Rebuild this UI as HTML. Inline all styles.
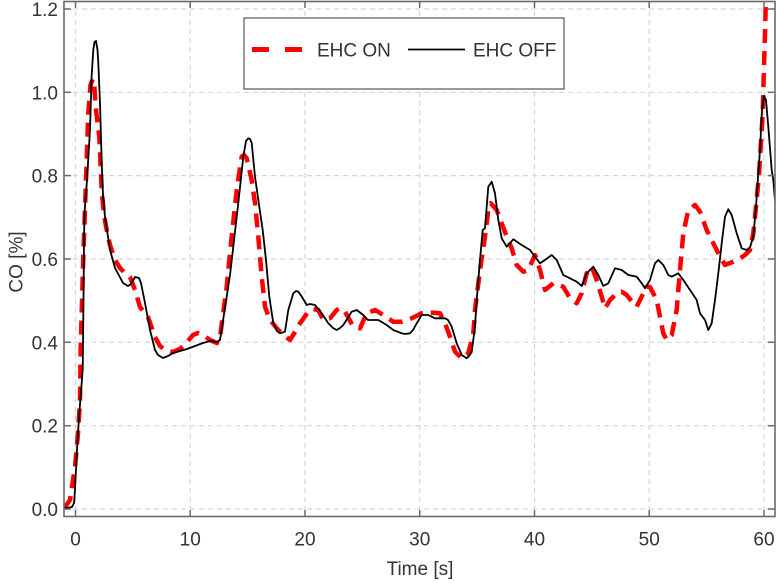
<!DOCTYPE html>
<html>
<head>
<meta charset="utf-8">
<style>
html,body{margin:0;padding:0;background:#fff;}
svg{display:block;}
text{font-family:"Liberation Sans",sans-serif;fill:#333;}
</style>
</head>
<body>
<svg width="778" height="583" viewBox="0 0 778 583" xmlns="http://www.w3.org/2000/svg">
<defs>
<clipPath id="pa"><rect x="64" y="1.5" width="711" height="515"/></clipPath>
</defs>
<rect x="0" y="0" width="778" height="583" fill="#fff"/>
<!-- grid -->
<g stroke="#d6d6d6" stroke-width="1.2" stroke-dasharray="5 4" fill="none">
<line x1="75.5" y1="2" x2="75.5" y2="516"/>
<line x1="190.2" y1="2" x2="190.2" y2="516"/>
<line x1="305" y1="2" x2="305" y2="516"/>
<line x1="419.7" y1="2" x2="419.7" y2="516"/>
<line x1="534.5" y1="2" x2="534.5" y2="516"/>
<line x1="649.2" y1="2" x2="649.2" y2="516"/>
<line x1="764" y1="2" x2="764" y2="516"/>
<line x1="64" y1="509" x2="775" y2="509"/>
<line x1="64" y1="425.7" x2="775" y2="425.7"/>
<line x1="64" y1="342.3" x2="775" y2="342.3"/>
<line x1="64" y1="259" x2="775" y2="259"/>
<line x1="64" y1="175.6" x2="775" y2="175.6"/>
<line x1="64" y1="92.3" x2="775" y2="92.3"/>
<line x1="64" y1="9" x2="775" y2="9"/>
</g>
<g clip-path="url(#pa)" fill="none" stroke-linejoin="round">
<polyline stroke="#f00" stroke-width="4.5" stroke-dasharray="14 8" points="64,508 65,507 70,500 75,467 78,433 80,400 80.7,347 83.3,257 86,180 88.3,113 90.5,85 92.7,79 94,82 96,110 99.3,137 101.7,190 104,215 106.7,230 110,245 115,260 120,268 125,273 130,277 135,290 140,307 148,317 155,337 160,346 165,350 173,352 180,349 187,342 193,335 198,333 203,335 210,340 217,343 220,337 226.7,286.7 231.7,236.7 236.7,190 241.7,156.7 244,155 246.7,158.3 251.7,180 255,203 258.3,236.7 261.7,276.7 265,306.7 270,320 278.3,330 285,336 290,340 295,332 300,323.3 308.3,311.7 313,309 318.3,310 323.3,320 330,318.3 336.7,310 340,308 345,311.7 353.3,326.7 360,328.3 366.7,313.3 375,310 383.3,315 393.3,321.7 401.7,321.7 411.7,318.3 421.7,313.3 433.3,312.7 440,313.3 445,323.3 450,336.7 455,351.7 461.7,358.3 468.3,353.3 473.3,333.3 475,310 480,270 485,236.7 488.3,210 490.7,203.3 496.7,210 501.7,223.3 506.7,236.7 511.7,248.3 516.7,265 523.3,271.7 528.3,270 535,255 540,270 545,290 553.3,283.3 563.3,286.7 570,298.3 576.7,303.3 581.7,293.3 586.7,273.3 591.7,266.7 596.7,280 601.7,296.7 605,308.3 610,300 616.7,293.3 621.7,291.7 626.7,295 633.3,303.3 636.7,306.7 640,300 643.3,293.3 646.7,286.7 650,287 656.7,300 660,316.7 663.3,333.3 666.7,340 671.7,335 676.7,310 680,270 683.3,233.3 688.3,210 695,205 700,211.7 706.7,230 711.7,240 718.3,253.3 725,265 733.3,261.7 740,258.3 745,255 750,250 753.3,233.3 756,206.7 759,175 762.7,113 764,66.7 765,33 766,-5"/>
<polyline stroke="#000" stroke-width="1.8" points="64,508 67,508 72,507 74,503 75,490 77,450 79,417 82.7,370 83.5,300 84,240 84.5,213 87,180 90,130 91.7,75 93.3,50 94.5,42 96,41 97.5,50 98.3,63 100,103 101.7,163 103,195 105,217 110,250 115,268 123,283 128,286 131,284 135,277 139,278 141,283 145,303 150,330 155,350 158,355 163,358 168,356 173,353 180,351 187,349 195,346 203,343 210,341 217,342 220,340 226.7,296.7 230,275 233.3,246.7 238.3,203 243.3,156.7 246,141 248.3,138.3 250,139 251.7,143 255,176.7 259.3,206.7 262.7,230 266,260 269.3,296.7 273.3,323.3 277,331 280,333.3 285,331.7 288.3,310 293.3,293.3 296,291 298.3,291.7 302,297 306.7,305 310,304 315,305 321.7,313.3 328.3,323.3 333,328 336.7,330 340,328 343.3,325 351.7,311.7 356.7,310 363.3,315 368,320 371.7,320 378.3,320 386.7,325 393.3,330 401.7,333.3 405,334 410,333.3 413,330 416.7,323.3 421.7,315 428.3,315 435,318.3 445,318.3 448,320 451.7,326.7 456.7,343.3 461.7,355 466.7,358.3 469,356 471.7,352 475,326.7 476.7,300 480,260 482.7,230 485,228.3 488.3,186.7 491.7,181.7 495,193.3 498.3,220 501.7,238.3 506.7,246.7 513.3,239.3 521.7,245 530,250 535,256.7 540,263.3 545,260 551.7,255 556.7,260 563.3,275 570,278.3 576.7,281.7 581.7,286 586.7,273.3 593.3,266.7 598.3,275 603.3,286 608.3,283.3 615,268.3 621.7,270 628.3,275 636.7,276.7 641.7,283.3 645,288.3 650,280 655,263.3 658.3,260 663.3,265 668.3,275 671.7,276.7 678.3,273.3 683.3,280 690,290 696.7,300 700,313.3 705,320 708.3,330 711.7,323.3 715,300 718.3,273.3 721.7,243.3 725,216.7 728.3,209.3 731.7,215 736.7,233.3 741.7,248.3 746.7,250 750,247.3 753.3,236.7 756,206.7 758.3,173.3 760,150 762,110 764,96 766,100 768.3,126.7 771.7,170 773.3,180 775,200 776,205"/>
</g>
<!-- frame -->
<rect x="64" y="1.5" width="711" height="515" fill="none" stroke="#6a6a6a" stroke-width="1.6"/>
<!-- ticks -->
<g stroke="#6a6a6a" stroke-width="1.5">
<line x1="75.5" y1="516.5" x2="75.5" y2="510"/><line x1="75.5" y1="1.5" x2="75.5" y2="8"/>
<line x1="190.2" y1="516.5" x2="190.2" y2="510"/><line x1="190.2" y1="1.5" x2="190.2" y2="8"/>
<line x1="305" y1="516.5" x2="305" y2="510"/><line x1="305" y1="1.5" x2="305" y2="8"/>
<line x1="419.7" y1="516.5" x2="419.7" y2="510"/><line x1="419.7" y1="1.5" x2="419.7" y2="8"/>
<line x1="534.5" y1="516.5" x2="534.5" y2="510"/><line x1="534.5" y1="1.5" x2="534.5" y2="8"/>
<line x1="649.2" y1="516.5" x2="649.2" y2="510"/><line x1="649.2" y1="1.5" x2="649.2" y2="8"/>
<line x1="764" y1="516.5" x2="764" y2="510"/><line x1="764" y1="1.5" x2="764" y2="8"/>
<line x1="64" y1="509" x2="71" y2="509"/><line x1="775" y1="509" x2="768" y2="509"/>
<line x1="64" y1="425.7" x2="71" y2="425.7"/><line x1="775" y1="425.7" x2="768" y2="425.7"/>
<line x1="64" y1="342.3" x2="71" y2="342.3"/><line x1="775" y1="342.3" x2="768" y2="342.3"/>
<line x1="64" y1="259" x2="71" y2="259"/><line x1="775" y1="259" x2="768" y2="259"/>
<line x1="64" y1="175.6" x2="71" y2="175.6"/><line x1="775" y1="175.6" x2="768" y2="175.6"/>
<line x1="64" y1="92.3" x2="71" y2="92.3"/><line x1="775" y1="92.3" x2="768" y2="92.3"/>
<line x1="64" y1="9" x2="71" y2="9"/><line x1="775" y1="9" x2="768" y2="9"/>
</g>
<!-- y labels -->
<g font-size="19" text-anchor="end">
<text x="58" y="516">0.0</text>
<text x="58" y="432.7">0.2</text>
<text x="58" y="349.3">0.4</text>
<text x="58" y="266">0.6</text>
<text x="58" y="182.6">0.8</text>
<text x="58" y="99.3">1.0</text>
<text x="58" y="16">1.2</text>
</g>
<!-- x labels -->
<g font-size="19" text-anchor="middle">
<text x="75.5" y="545.5">0</text>
<text x="190.2" y="545.5">10</text>
<text x="305" y="545.5">20</text>
<text x="419.7" y="545.5">30</text>
<text x="534.5" y="545.5">40</text>
<text x="649.2" y="545.5">50</text>
<text x="764" y="545.5">60</text>
<text x="420" y="575">Time [s]</text>
</g>
<text font-size="19" text-anchor="middle" transform="translate(22.5,262) rotate(-90)">CO [%]</text>
<!-- legend -->
<rect x="244" y="18" width="320" height="71" fill="#fff" stroke="#555" stroke-width="1.2"/>
<line x1="252" y1="49.5" x2="302" y2="49.5" stroke="#f00" stroke-width="5" stroke-dasharray="17 16"/>
<line x1="408" y1="49.5" x2="465" y2="49.5" stroke="#000" stroke-width="1.8"/>
<text x="317" y="56.5" font-size="19" fill="#222">EHC ON</text>
<text x="473" y="56.5" font-size="19" fill="#222">EHC OFF</text>
</svg>
</body>
</html>
